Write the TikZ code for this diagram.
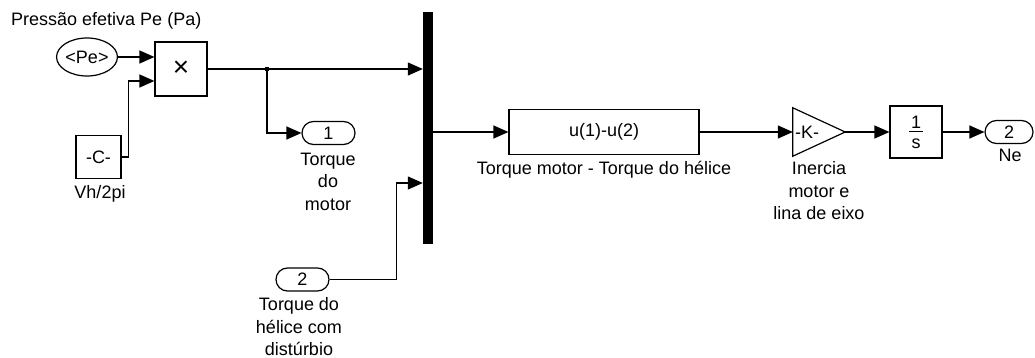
\documentclass[tikz,border=0pt]{standalone}
\usepackage{fontspec}
\setmainfont{Liberation Sans}
\usetikzlibrary{arrows.meta,shapes}

\begin{document}
\begin{tikzpicture}[x=1pt,y=-1pt,>={Triangle[length=15pt,width=13pt]},
  every node/.style={font=\fontsize{18}{22.5}\selectfont},
  blk/.style={draw,line width=1.2pt,inner sep=0pt},
  port/.style={draw,line width=1.2pt,rounded corners=11.5pt,minimum width=53pt,minimum height=23pt,inner sep=0pt},
  lbl/.style={inner sep=0pt,align=center},
  wire/.style={line width=1.2pt}]
\useasboundingbox (0,0) rectangle (1035,358);
\node[lbl,anchor=north west] (title) at (11,12) {Pressão efetiva Pe (Pa)};
\node[blk,ellipse,minimum width=53pt,minimum height=38pt] (pe) at (87,57) {<Pe>};
\node[blk,minimum width=52pt,minimum height=54pt,font=\fontsize{28}{28}\selectfont] (prod) at (181,69) {×};
\node[blk,minimum width=45pt,minimum height=43pt] (const) at (98.5,157) {-C-};
\node[lbl,anchor=north] (vh) at (100,185) {Vh/2pi};
\node[port] (out1) at (328.5,133) {1};
\node[lbl,anchor=north] (tqm) at (328,152.5) {Torque\\do\\motor};
\node[fill,minimum width=10pt,minimum height=232pt,inner sep=0pt] (mux) at (428,128) {};
\node[port] (in2) at (302.5,279.5) {2};
\node[lbl,anchor=north] (tqh) at (299,297.5) {Torque do\\hélice com\\distúrbio};
\node[blk,minimum width=190pt,minimum height=45pt] (fcn) at (604,132) {u(1)-u(2)};
\node[lbl,anchor=base] (fcnl) at (604,175) {Torque motor - Torque do hélice};
\node[minimum width=52pt,minimum height=48pt,inner sep=0pt] (gain) at (819,132) {};
\draw[wire] (gain.north west) -- (gain.east) -- (gain.south west) -- cycle;
\node[inner sep=0pt] (ktxt) at (807,132) {-K-};
\node[lbl,anchor=north] (gainl) at (819,161.5) {Inercia\\motor e\\lina de eixo};
\node[blk,align=center,minimum width=52pt,minimum height=52pt,font=\fontsize{18}{20}\selectfont] (integ) at (916,132) {1\\s};
\draw[line width=1pt] ([xshift=-7pt]integ.center) -- ([xshift=7pt]integ.center);
\node[port,minimum width=48pt] (out2) at (1009,132) {2};
\node[lbl,anchor=base] (nel) at (1010,162) {Ne};
\coordinate (br) at (267,69);
% wires
\draw[wire,->] (pe.east) -- ([yshift=12pt]prod.west);
\draw[wire,->] (const.east) -- ++(7,0) |- ([yshift=-12pt]prod.west);
\draw[wire,->] (prod.east) -- (prod.east -| mux.west);
\fill (br) ++(-2,-2) rectangle ++(4,4);
\draw[wire,->] (br) |- (out1.west);
\draw[wire,->] (in2.east) -- ++(67,0) |- ([yshift=-55pt]mux.west);
\draw[wire,->] (mux.east |- fcn.west) -- (fcn.west);
\draw[wire,->] (fcn.east) -- (gain.west);
\draw[wire,->] (gain.east) -- (integ.west);
\draw[wire,->] (integ.east) -- (out2.west);
\end{tikzpicture}
\end{document}
